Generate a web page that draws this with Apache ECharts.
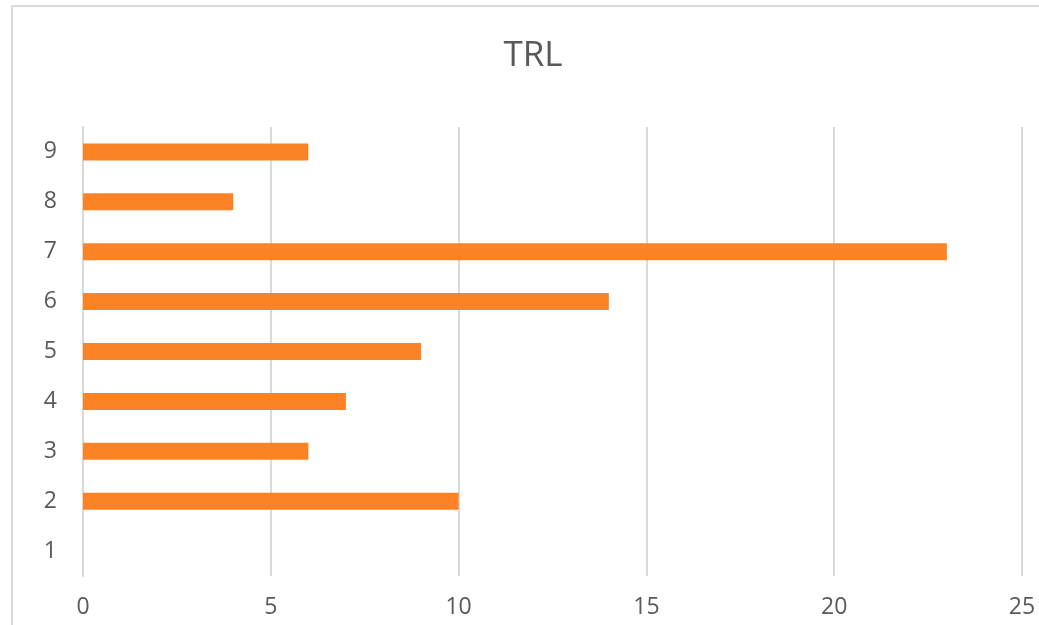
<!DOCTYPE html>
<html>
<head>
<meta charset="utf-8">
<script src="https://cdn.jsdelivr.net/npm/echarts@6/dist/echarts.min.js"></script>
<style>
  html, body { margin: 0; padding: 0; background: #fff; }
  #chart { width: 1039px; height: 625px; }
</style>
</head>
<body>
<div id="chart"></div>
<script>
// TRL levels on the vertical axis, counts along the horizontal axis
const trlLevels = ['1', '2', '3', '4', '5', '6', '7', '8', '9'];
const counts = [0, 10, 6, 7, 9, 14, 23, 4, 6];
const xTicks = [0, 5, 10, 15, 20, 25];

const textColor = '#595959';
const gridColor = '#d9d9d9';
const fontFamily = '"Open Sans", "Noto Sans", sans-serif';

const chart = echarts.init(document.getElementById('chart'));
chart.setOption({
  animation: false,
  backgroundColor: '#ffffff',
  graphic: [{
    type: 'rect',
    shape: { x: 12, y: 6, width: 1100, height: 700 },
    style: { fill: 'none', stroke: gridColor, lineWidth: 2 },
    silent: true
  }],
  title: {
    text: 'TRL',
    left: 528,
    top: 34,
    textAlign: 'center',
    textStyle: { color: textColor, fontSize: 35, fontWeight: 'normal', fontFamily: fontFamily }
  },
  grid: { left: 83, right: 17, top: 127, bottom: 49, containLabel: false },
  xAxis: {
    type: 'value',
    min: xTicks[0],
    max: xTicks[xTicks.length - 1],
    interval: 5,
    axisLine: { show: false },
    axisTick: { show: false },
    splitLine: { show: true, lineStyle: { color: gridColor, width: 2 } },
    axisLabel: { color: textColor, fontSize: 23, fontFamily: fontFamily, margin: 20 }
  },
  yAxis: {
    type: 'category',
    data: trlLevels,
    axisLine: { show: true, lineStyle: { color: gridColor, width: 2 } },
    axisTick: { show: false },
    axisLabel: { color: textColor, fontSize: 23, fontFamily: fontFamily, margin: 26 }
  },
  series: [{
    type: 'bar',
    data: counts,
    barWidth: 17,
    itemStyle: { color: '#fc8226' }
  }]
});
</script>
</body>
</html>
